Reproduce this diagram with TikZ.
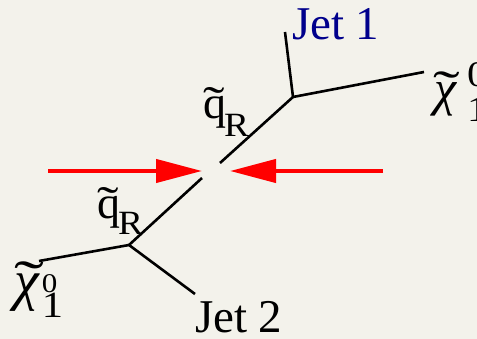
\documentclass[tikz,border=0pt]{standalone}
\usepackage{fontspec}
\setmainfont{Liberation Serif}
\usetikzlibrary{arrows.meta}
\definecolor{bgbeige}{RGB}{243,242,235}
\definecolor{jetnavy}{RGB}{0,0,140}
\newcommand{\tld}[3][1.4]{\leavevmode\setbox0\hbox{#3}\rlap{\hbox to \wd0{\hss\kern#2\scalebox{#1}[1]{\upshape ˜}\hss}}\box0}
\newcommand{\subR}[1]{\raisebox{#1}{\scalebox{1.1}[1]{\fontsize{34}{34}\selectfont R}}}
\newcommand{\dig}[3]{\raisebox{#1}{\scalebox{1.15}[1]{\upshape\fontsize{#2}{#2}\selectfont #3}}}
\tikzset{
  prop/.style={line width=2.6pt, line cap=butt},
  beam/.style={draw=red, line width=4.2pt, -{Triangle[length=46pt,width=23pt]}},
  lbl/.style={inner sep=0pt, outer sep=0pt, anchor=base west},
}
\begin{document}
\begin{tikzpicture}[x=1pt,y=-1pt]
\fill[bgbeige] (0,0) rectangle (477,339);
\useasboundingbox (0,0) rectangle (477,339);
% upper decay
\coordinate (v1) at (293,97);
\coordinate (j1) at (285,32);
\coordinate (cr) at (424,72);
\coordinate (qu) at (220,163);
% lower decay
\coordinate (ql) at (202,178);
\coordinate (v2) at (129,245);
\coordinate (cl) at (39,261);
\coordinate (j2) at (195,294);
\draw[prop] (qu) -- (v1) -- (cr);
\draw[prop] (v1) -- (j1);
\draw[prop] (ql) -- (v2) -- (cl);
\draw[prop] (v2) -- (j2);
% beams
\coordinate (bl) at (48,171);
\coordinate (tl) at (202,171);
\coordinate (br) at (383,171);
\coordinate (tr) at (230,171);
\draw[beam] (bl) -- (tl);
\draw[beam] (br) -- (tr);
% labels
\node[lbl, text=jetnavy, font=\fontsize{47}{47}\selectfont] (jet1) at (292,40) {Jet 1};
\node[lbl, font=\fontsize{47}{47}\selectfont] (jet2) at (195,333) {Jet 2};
\node[lbl, font=\fontsize{46}{46}\selectfont] (squ) at (203,119) {\tld{0pt}{q}\kern-2pt\subR{-18pt}};
\node[lbl, font=\fontsize{46}{46}\selectfont] (sql) at (97,219) {\tld{0pt}{q}\kern-2pt\subR{-16pt}};
\node[lbl, font=\fontsize{56}{56}\selectfont\itshape] (chil) at (15,300) {\rlap{\tld[1.6]{4pt}{χ}}\hspace*{27pt}\rlap{\dig{7pt}{27}{0}}\dig{-18pt}{37}{1}};
\node[lbl, font=\fontsize{50}{50}\selectfont\itshape] (chir) at (434,106) {\rlap{\tld[1.6]{4pt}{χ}}\hspace*{33pt}\rlap{\dig{19pt}{36}{0}}\dig{-16pt}{36}{1}};
\end{tikzpicture}
\end{document}
